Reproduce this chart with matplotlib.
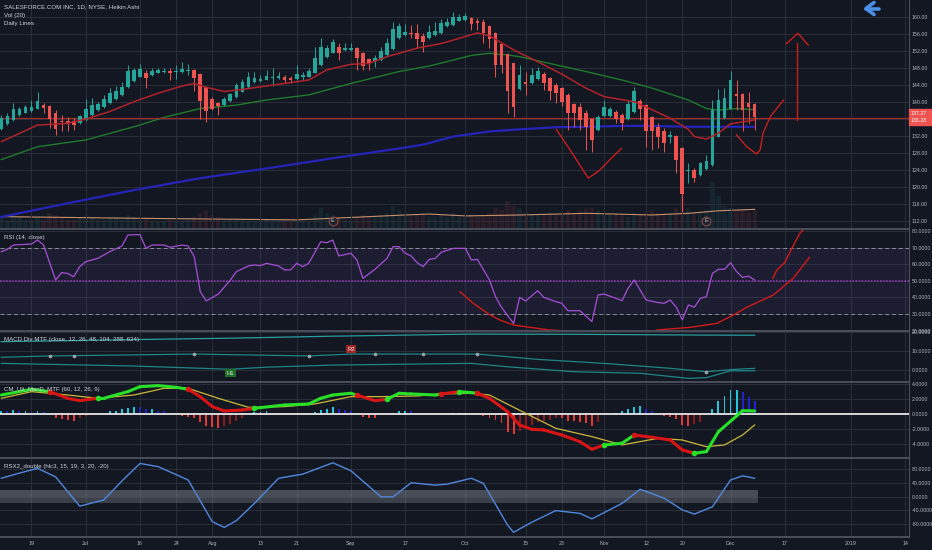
import numpy as np
import matplotlib
matplotlib.use("Agg")
import matplotlib.pyplot as plt
from matplotlib.lines import Line2D
from matplotlib.patches import Rectangle

plt.rcParams['font.family'] = ['Liberation Sans Narrow', 'Liberation Sans', 'DejaVu Sans']

BG = '#131722'
GRID = '#2a2e39'
SEP = '#4a4e5a'
TXT = '#d1d4dc'
AXC = '#b2b5be'
UP = '#26a69a'
DN = '#ef5350'

# ---------------- data (bar index 0 = Jun 19) ----------------
first_bar = -5
ha_open = [133.5, 134.75, 135.7, 136.8, 137.4, 137.8, 138.4, 139.3, 139.0, 137.4,
           135.4, 135.4, 135.4, 134.9, 135.7, 136.9, 138.05, 138.7, 139.6, 140.6,
           141.6, 143.4, 144.9, 145.9, 146.8, 146.3, 146.8, 147.0, 147.2, 147.0,
           147.0, 147.15, 147.5, 146.5, 143.4, 140.6, 139.6, 139.2, 140.2, 141.0,
           142.4, 143.4, 144.55, 144.9, 145.1, 145.6, 145.6, 145.9, 145.6, 145.35,
           145.7, 145.9, 146.8, 148.6, 150.6, 151.5, 152.95, 152.2, 152.2, 152.6,
           151.4, 150.0, 149.65, 149.8, 151.0, 152.4, 154.9, 155.7, 156.2, 156.1,
           155.5, 154.9, 155.7, 156.1, 157.7, 158.05, 159.1, 159.2, 159.6, 159.1,
           158.75, 157.7, 156.2, 153.6, 151.15, 149.0, 142.9, 144.6, 144.3, 145.3,
           146.5, 145.5, 143.9, 143.15, 141.6, 139.5, 138.7, 137.3, 135.85, 133.3,
           136.6, 136.6, 137.65, 136.9, 135.85, 137.65, 140.2, 139.2, 136.3, 134.1,
           133.1, 131.6, 131.9, 129.2, 123.8, 123.9, 122.75, 124.1, 125.1, 131.8,
           136.1, 138.4, 141.7, 141.7, 139.8, 139.5]
ha_high = [136.9, 137.3, 139.6, 138.8, 139.2, 140.4, 142.4, 139.6, 139.2, 138.05,
           136.9, 136.5, 136.1, 136.9, 140.55, 140.8, 140.0, 141.6, 143.15, 143.7,
           144.7, 148.6, 147.85, 148.9, 147.5, 147.85, 147.85, 147.85, 147.85, 148.6,
           149.4, 148.9, 147.6, 146.7, 143.7, 141.2, 140.0, 141.0, 142.1, 144.3,
           145.3, 147.1, 147.1, 146.3, 147.5, 147.85, 147.1, 146.3, 146.05, 148.6,
           147.1, 147.85, 152.95, 154.9, 153.3, 154.7, 153.9, 153.9, 153.7, 152.95,
           151.8, 150.4, 151.0, 152.95, 154.9, 158.8, 158.6, 158.4, 158.05, 158.3,
           156.1, 158.05, 158.8, 159.4, 159.6, 161.2, 160.6, 160.95, 159.85, 159.6,
           159.4, 158.05, 156.5, 153.7, 151.4, 149.2, 148.6, 147.1, 147.85, 148.2,
           147.1, 145.9, 144.3, 143.5, 142.0, 139.8, 139.6, 138.05, 136.1, 136.9,
           140.4, 138.8, 138.05, 137.3, 140.4, 143.5, 140.55, 139.5, 136.6, 134.9,
           133.7, 133.0, 132.2, 129.4, 125.5, 124.3, 125.9, 127.5, 140.4, 142.9,
           143.15, 147.3, 145.1, 142.1, 142.4, 139.8]
ha_low = [133.3, 134.5, 135.5, 136.6, 137.3, 137.65, 138.2, 137.3, 133.7, 132.2,
          133.2, 133.2, 133.3, 134.75, 135.5, 136.6, 137.9, 138.5, 139.5, 140.5,
          141.4, 143.2, 144.7, 145.7, 143.15, 146.05, 146.7, 146.7, 145.0, 145.3,
          146.8, 146.3, 142.6, 135.9, 135.3, 138.05, 136.9, 139.0, 140.0, 140.8,
          142.2, 143.2, 144.3, 144.7, 145.0, 143.7, 145.4, 144.3, 144.5, 145.1,
          145.1, 145.7, 146.7, 148.4, 150.4, 151.4, 149.8, 152.0, 152.0, 147.5,
          147.5, 147.5, 148.1, 149.65, 150.8, 152.2, 154.7, 155.5, 155.1, 152.6,
          151.8, 154.7, 155.5, 156.0, 157.5, 157.8, 158.9, 159.1, 156.9, 156.9,
          153.9, 152.6, 145.9, 146.7, 137.3, 136.5, 142.75, 141.6, 144.2, 145.1,
          142.75, 140.4, 139.6, 139.0, 133.3, 134.1, 133.3, 128.6, 128.2, 133.2,
          136.5, 136.5, 135.05, 133.3, 135.7, 137.4, 135.7, 129.4, 128.6, 129.0,
          128.2, 130.2, 123.2, 114.1, 120.8, 121.0, 122.5, 123.9, 124.9, 131.6,
          135.85, 138.2, 138.05, 133.0, 135.05, 133.3]
ha_close = [136.1, 136.6, 138.2, 138.2, 138.7, 138.8, 140.2, 138.5, 135.85, 133.5,
            135.2, 135.05, 134.6, 136.6, 138.2, 139.2, 139.5, 140.6, 142.0, 142.6,
            143.4, 147.3, 147.5, 147.7, 145.65, 147.3, 147.4, 147.3, 146.8, 147.3,
            147.8, 147.4, 145.65, 140.2, 137.9, 138.4, 139.0, 140.7, 141.8, 143.85,
            144.6, 145.7, 145.5, 145.4, 146.05, 145.7, 146.1, 145.1, 145.1, 146.5,
            146.2, 147.3, 150.4, 152.95, 152.6, 154.05, 151.5, 152.6, 152.7, 150.2,
            148.5, 149.2, 150.4, 152.0, 153.9, 157.0, 157.8, 156.5, 155.9, 154.7,
            154.05, 156.5, 156.7, 158.6, 158.8, 160.0, 159.85, 160.2, 158.3, 158.6,
            156.1, 154.7, 148.6, 148.6, 142.6, 138.8, 146.3, 144.2, 146.3, 147.3,
            144.5, 142.6, 142.0, 140.0, 137.3, 137.4, 135.7, 134.1, 131.0, 136.5,
            138.7, 138.4, 135.85, 135.05, 139.5, 142.6, 138.4, 133.2, 133.2, 131.8,
            130.2, 132.2, 126.3, 118.4, 123.9, 122.0, 125.5, 126.1, 138.05, 140.4,
            140.8, 145.1, 141.35, 138.05, 138.7, 136.5]
volume = [5, 4, 6, 5, 4, 4, 5, 4, 7, 6, 5, 4, 4, 5, 6, 5, 4, 4, 5, 5,
          4, 6, 5, 4, 5, 3, 3, 3, 4, 3, 3, 4, 5, 7, 8, 6, 5, 4, 4, 4,
          4, 3, 3, 3, 4, 3, 3, 4, 3, 3, 3, 3, 6, 9, 7, 6, 5, 4, 4, 5,
          6, 5, 5, 6, 7, 10, 8, 6, 5, 6, 6, 5, 5, 6, 5, 7, 5, 5, 6, 5,
          6, 7, 9, 8, 12, 10, 9, 7, 6, 6, 6, 7, 6, 6, 8, 7, 8, 9, 9, 8,
          7, 6, 6, 6, 5, 7, 6, 7, 8, 7, 7, 7, 9, 14, 9, 7, 7, 8, 20, 14,
          10, 9, 8, 8, 7, 8]
volma_x = [-5, 17, 44, 50, 62, 66, 72, 81, 92, 103, 109, 114, 120]
volma_y = [5.3, 4.6, 3.9, 4.6, 6.0, 6.4, 5.6, 6.0, 6.7, 6.0, 6.7, 7.8, 8.4]

ma_red_x = [-5, 1, 6, 9, 13, 17, 21, 25, 27, 29, 32, 35, 39, 42, 46, 49, 53, 56, 59, 64,
            68, 70, 74, 76, 80, 84, 88, 92, 95, 100, 103, 106, 109, 110, 112, 114, 116, 120]
ma_red_y = [130.6, 134.5, 134.9, 135.9, 137.7, 140.0, 142.0, 143.7, 144.3, 143.4, 142.4,
            142.9, 143.7, 144.3, 145.1, 147.5, 148.8, 149.0, 150.6, 152.6, 153.7, 154.5,
            156.2, 155.5, 152.2, 149.4, 146.5, 143.2, 141.2, 140.0, 138.1, 136.1, 133.5,
            131.8, 131.2, 132.6, 134.8, 135.7]
ma_green_x = [-5, 1, 9, 17, 22, 28, 34, 39, 46, 53, 61, 66, 70, 73, 76, 79, 81, 86, 92,
              98, 103, 109, 112, 114, 117, 120]
ma_green_y = [126.4, 129.4, 131.0, 134.1, 136.3, 138.4, 139.2, 140.4, 141.6, 144.3, 147.1,
              148.4, 149.8, 150.9, 151.4, 151.0, 150.6, 149.0, 147.1, 145.1, 143.2, 140.4,
              138.4, 138.0, 138.4, 138.1]
ma_blue_x = [-5, 6, 17, 28, 39, 50, 61, 65, 70, 76, 81, 87, 92, 98, 103, 109, 114, 120]
ma_blue_y = [112.9, 116.1, 119.2, 122.0, 124.3, 126.7, 129.0, 129.9, 131.8, 133.0, 133.5,
             134.0, 134.1, 134.3, 134.3, 134.1, 134.1, 134.1]

daily_line = 136.28
last_prices = ['137.27', '136.28']
earnings_idx = [50, 112]

# hand drawn marks (bar index, price)
draw1_x = [87.1, 89.4, 92.4, 94.3, 96.5, 97.9]
draw1_y = [133.5, 128.6, 122.0, 123.9, 127.1, 129.0]
draw2_x = [117.0, 118.7, 120.3, 120.9, 121.4, 122.6, 124.8]
draw2_y = [132.2, 129.4, 127.7, 128.6, 132.6, 136.5, 140.4]
arrow_x = [127.0, 127.0]
arrow_y = [135.7, 153.7]
head_x = [125.3, 127.2, 128.9]
head_y = [153.7, 156.1, 153.3]

rsi_x = [-5, -4, -3, 0, 1, 2, 4, 5, 6, 7, 8, 9, 11, 13, 15, 16, 18, 19, 20, 22, 23, 25, 26,
         27, 28, 29, 31, 33, 34, 36, 37, 38, 39, 41, 42, 43, 44, 45, 46, 48, 49, 50, 51, 53,
         54, 55, 57, 59, 60, 61, 62, 63, 64, 65, 66, 67, 68, 70, 72, 73, 74, 76, 77, 78, 80,
         81, 82, 84, 85, 87, 88, 89, 91, 93, 94, 95, 97, 98, 99, 100, 102, 104, 105, 106,
         107, 108, 109, 110, 111, 112, 113, 114, 115, 116, 117, 118, 119, 120]
rsi_y = [67.8, 69.2, 71.8, 72.4, 74.9, 71.8, 50.6, 55.1, 54.6, 52.6, 58.7, 61.7, 63.7, 67.8,
         71.2, 77.9, 78.1, 69.8, 71.8, 71.8, 70.4, 71.8, 71.2, 64.8, 43.6, 37.9, 42.1, 50.6,
         55.7, 59.1, 59.7, 59.3, 60.7, 59.1, 56.7, 56.7, 60.7, 58.7, 60.7, 73.8, 73.2, 74.8,
         65.2, 66.8, 62.7, 51.6, 57.1, 63.7, 70.8, 70.8, 66.8, 65.2, 61.1, 58.7, 63.1, 63.7,
         67.4, 69.8, 69.8, 62.7, 63.1, 50.6, 40.5, 34.0, 24.3, 40.1, 37.9, 44.1, 40.1, 37.5,
         36.5, 32.0, 32.0, 25.4, 41.5, 42.1, 39.5, 38.1, 45.6, 50.6, 38.5, 36.9, 36.5, 38.5,
         34.1, 26.4, 35.5, 34.1, 39.5, 40.5, 54.6, 57.1, 57.1, 61.1, 55.7, 52.2, 53.0, 50.6]
rsi_drawA_x = [71.1, 73.3, 76.1, 77.7, 80.0, 86.0, 90.0]
rsi_drawA_y = [43.5, 36.5, 29.4, 26.4, 23.3, 20.3, 19.5]
rsi_drawB_x = [103.7, 109.3, 113.7, 116.5, 118.7, 123.1, 126.4, 129.1]
rsi_drawB_y = [20.3, 21.9, 24.3, 29.4, 34.1, 41.5, 51.6, 64.3]
rsi_drawC_x = [123.0, 123.7, 125.0, 125.9, 127.5, 128.3]
rsi_drawC_y = [51.6, 56.7, 61.1, 67.8, 78.9, 82.0]

mtf1_x = [-5, 17, 34, 50, 73, 90, 110, 120]
mtf1_y = [14.9, 16.0, 16.8, 17.8, 18.9, 18.8, 18.4, 18.3]
mtf2_x = [-5, 3, 27, 46, 53, 65, 74, 84, 95, 106, 112, 116, 120]
mtf2_y = [6.7, 7.4, 8.4, 7.4, 8.4, 8.4, 8.4, 5.6, 3.5, 0.9, -0.9, 0.2, 0.9]
mtf3_x = [-5, 17, 33, 39, 50, 73, 79, 90, 101, 109, 112, 116, 120]
mtf3_y = [3.5, 2.1, 0.4, 1.5, 2.6, 3.5, 1.7, -0.9, -1.7, -4.4, -4.0, -0.4, -0.4]
mtf_dot_x = [3, 7, 27, 46, 57, 65, 74, 112]
mtf_dot_y = [7.4, 7.6, 8.4, 7.4, 8.4, 8.4, 8.4, -1.2]
mtf_tags = [('R2', 53, 10.9, '#a12727'), ('H1', 33, -1.7, '#1f6f25')]

macd_x = [-5, -2, 0, 3, 6, 8, 11, 12, 16, 18, 21, 24, 26, 28, 30, 32, 35, 37, 42, 46, 48,
          50, 53, 54, 57, 59, 61, 63, 67, 68, 71, 73, 74, 76, 79, 81, 83, 85, 88, 91, 93,
          95, 98, 100, 103, 106, 108, 110, 112, 114, 117, 118, 120]
macd_y = [2.53, 2.98, 3.29, 2.98, 2.09, 1.78, 2.09, 2.09, 2.98, 3.64, 3.78, 3.56, 3.29,
          2.31, 0.98, 0.4, 0.53, 0.76, 1.2, 1.33, 2.09, 2.53, 2.76, 2.5, 1.78, 1.96, 2.76,
          2.67, 2.53, 2.67, 2.98, 2.84, 2.76, 2.09, 0.31, -1.47, -2.04, -2.13, -2.8, -3.69,
          -4.71, -4.13, -3.91, -2.8, -3.11, -3.47, -4.8, -5.24, -5.02, -2.36, -0.27, 0.44, 0.4]
macd_state = list('gggrrrgggggg' 'rrrrrggggggrrggggrggrrrrrrrrrggrrrrgggggg')
signal_x = [-5, 0, 6, 11, 17, 22, 26, 31, 36, 42, 47, 53, 58, 64, 68, 73, 76, 82, 87, 93,
            98, 104, 108, 112, 115, 118, 120]
signal_y = [2.09, 2.98, 2.53, 2.09, 2.53, 3.42, 3.42, 2.09, 0.89, 0.98, 1.33, 2.31, 2.31,
            2.4, 2.67, 2.76, 2.53, 0.09, -1.91, -3.02, -4.13, -3.24, -3.47, -4.36, -4.13,
            -2.8, -1.47]
hist = [0.44, 0.36, 0.53, 0.36, 0.36, 0.3, 0.44, 0.2, 0.0, -0.53,
        -0.67, -0.8, -0.98, -0.53, -0.27, 0.0, 0.0, 0.05, 0.36, 0.44,
        0.62, 0.8, 0.98, 0.89, 0.62, 0.62, 0.44, 0.36, 0.18, 0.02,
        -0.22, -0.36, -0.53, -1.1, -1.56, -1.78, -1.87, -1.56, -1.33, -0.98,
        -0.53, 0.0, 0.2, 0.2, 0.36, 0.18, 0.1, 0.0, 0.0, 0.0,
        0.0, 0.05, 0.2, 0.53, 0.71, 0.89, 0.62, 0.53, 0.36, 0.0,
        -0.36, -0.53, -0.53, 0.0, 0.05, 0.18, 0.36, 0.44, 0.36, 0.18,
        0.0, 0.0, 0.0, 0.0, 0.05, 0.13, 0.18, 0.18, 0.0, 0.0,
        -0.27, -0.53, -0.8, -1.24, -2.44, -2.67, -2.22, -1.78, -1.42, -1.11,
        -0.89, -0.8, -0.53, -0.6, -0.89, -0.98, -1.11, -1.24, -1.56, -1.11,
        0.0, 0.0, 0.18, 0.36, 0.67, 0.98, 1.11, 0.67, 0.36, 0.0,
        -0.27, -0.36, -0.67, -1.42, -1.56, -1.33, -1.11, 0.0, 0.67, 1.78,
        2.44, 3.2, 3.2, 2.89, 2.31, 1.78]

rsx_x = [-5, -2, 1, 4, 8, 12, 15, 18, 21, 26, 30, 32, 34, 37, 41, 45, 50, 53, 58, 60, 63,
         67, 69, 73, 75, 79, 80, 83, 87, 91, 93, 98, 101, 105, 108, 110, 113, 116, 118, 120]
rsx_y = [53, 68, 82, 57, -28, -10, 45, 96, 87, 48, -73, -90, -70, -20, 53, 65, 98, 75, -1,
         -1, 40, 33, 36, 53, 38, -83, -104, -75, -41, -49, -65, -20, 21, -5, -39, -51, -30,
         48, 60, 53]

tick_idx = [0, 9, 18, 24, 30, 38, 44, 53, 62, 72, 82, 88, 95, 102, 108, 116, 125, 136, 145]
tick_lab = ['19', 'Jul', '16', '24', 'Aug', '13', '21', 'Sep', '17', 'Oct', '15', '23',
            'Nov', '12', '20', 'Dec', '17', '2019', '14']

# ---------------- figure ----------------
W, H = 932, 550
fig = plt.figure(figsize=(W / 100, H / 100), dpi=100, facecolor=BG)
XR = 909
LS = 3.8


def pane(top, bot):
    ax = fig.add_axes([0, 1 - bot / H, XR / W, (bot - top) / H], facecolor=BG)
    ax.set_xlim(-5.227, 145.62)
    for s in ('top', 'left'):
        ax.spines[s].set_visible(False)
    ax.spines['bottom'].set_color(SEP)
    ax.spines['bottom'].set_linewidth(1.4)
    ax.spines['right'].set_color(SEP)
    ax.spines['right'].set_linewidth(0.8)
    ax.set_xticks(tick_idx)
    ax.tick_params(axis='x', length=0, labelbottom=False)
    ax.yaxis.tick_right()
    ax.tick_params(axis='y', length=0, pad=2.0, labelsize=LS, labelcolor=AXC)
    ax.grid(True, color=GRID, lw=0.7)
    ax.set_axisbelow(True)
    return ax


def yticks(ax, vals, fmt):
    ax.set_yticks(vals)
    ax.set_yticklabels([fmt % v for v in vals])


x = np.arange(first_bar, first_bar + len(ha_open))
o = np.array(ha_open)
c = np.array(ha_close)
hi = np.array(ha_high)
lo = np.array(ha_low)
col = np.where(c >= o, UP, DN)

# volume layer under the price pane
axv = fig.add_axes([0, 1 - 229 / H, XR / W, 229 / H], facecolor=BG)
axv.set_xlim(-5.227, 145.62)
axv.set_ylim(0, 98)
axv.set_xticks([])
axv.set_yticks([])
for s in axv.spines.values():
    s.set_visible(False)
axv.bar(x, volume, width=0.7, color=col, alpha=0.11)
axv.plot(volma_x, volma_y, color='#c4906c', lw=0.8)

# main pane
ax = pane(0, 229)
ax.patch.set_visible(False)
ax.set_ylim(110.05, 163.93)
yticks(ax, list(range(112, 164, 4)), '%.2f')
ax.vlines(x, lo, hi, color=col, lw=0.7, zorder=3)
ax.bar(x, np.maximum(np.abs(c - o), 0.15), bottom=np.minimum(o, c), width=0.62,
       color=col, zorder=4)
ax.plot(ma_blue_x, ma_blue_y, color='#2424b8', lw=1.6, zorder=2)
ax.plot(ma_green_x, ma_green_y, color='#1f7a2b', lw=1.0, zorder=2)
ax.plot(ma_red_x, ma_red_y, color='#b0232b', lw=1.1, zorder=5)
ax.axhline(daily_line, color='#9c2b2b', lw=0.9, zorder=2)
for xs, ys in ((draw1_x, draw1_y), (draw2_x, draw2_y), (arrow_x, arrow_y), (head_x, head_y)):
    ax.plot(xs, ys, color='#c81e1e', lw=1.0, zorder=6)
ex = ax.get_xaxis_transform()
ax.scatter(earnings_idx, [0.035] * len(earnings_idx), s=40, transform=ex, zorder=7,
           facecolor='#1e222d', edgecolor='#8a4848', lw=0.8)
for e in earnings_idx:
    ax.text(e, 0.035, 'E', transform=ex, ha='center', va='center', fontsize=4,
            color='#c8c8c8', zorder=8)

# RSI pane
ax2 = pane(230, 331)
ax2.set_ylim(19.7, 80.9)
yticks(ax2, [20, 30, 40, 50, 60, 70, 80], '%.4f')
ax2.axhspan(30, 70, color='#7e57c2', alpha=0.1, lw=0)
ax2.axhline(70, color='#8a8d96', lw=0.7, ls=(0, (4, 3)))
ax2.axhline(30, color='#8a8d96', lw=0.7, ls=(0, (4, 3)))
ax2.axhline(50, color='#9a3cc0', lw=1.1, ls=(0, (1, 1)))
ax2.plot(rsi_x, rsi_y, color='#a64fd6', lw=0.9)
for xs, ys in ((rsi_drawA_x, rsi_drawA_y), (rsi_drawB_x, rsi_drawB_y), (rsi_drawC_x, rsi_drawC_y)):
    ax2.plot(xs, ys, color='#d11a1a', lw=1.0)

# MACD Div MTF pane
ax3 = pane(332, 382)
ax3.set_ylim(-6.3, 20.0)
yticks(ax3, [0, 10, 20], '%.4f')
ax3.plot(mtf1_x, mtf1_y, color='#2a9d9d', lw=0.9)
ax3.plot(mtf2_x, mtf2_y, color='#1f8585', lw=0.9)
ax3.plot(mtf3_x, mtf3_y, color='#1f8585', lw=0.9)
ax3.scatter(mtf_dot_x, mtf_dot_y, s=2.5, color='#9aa6a6', zorder=4)
for t, tx, ty, tc in mtf_tags:
    ax3.text(tx, ty, t, ha='center', va='center', fontsize=4.2, color='#e8e8e8', zorder=5,
             bbox=dict(boxstyle='square,pad=0.25', fc=tc, ec='none'))

# CM_Ult_MacD_MTF pane
ax4 = pane(383, 458)
ax4.set_ylim(-5.87, 4.13)
yticks(ax4, [-4, -2, 0, 2, 4], '%.4f')
hv = np.array(hist)
prev = np.concatenate([[hv[0]], hv[:-1]])
hcol = np.where(hv >= 0, np.where(hv >= prev, '#26c6da', '#2121cf'),
                np.where(hv <= prev, '#e53935', '#8e1b1b'))
ax4.bar(x, hv, width=0.32, color=hcol, zorder=2)
ax4.axhline(0, color='#e6e6e6', lw=1.3, zorder=3)
ax4.plot(signal_x, signal_y, color='#c9b83a', lw=0.9, zorder=4)
for i in range(len(macd_x) - 1):
    cc = '#27e027' if macd_state[i] == 'g' else '#d91414'
    ax4.plot(macd_x[i:i + 2], macd_y[i:i + 2], color=cc, lw=2.2, zorder=5,
             solid_capstyle='round')
for i in range(1, len(macd_x)):
    if macd_state[i] != macd_state[i - 1]:
        cc = '#27e027' if macd_state[i] == 'g' else '#d91414'
        ax4.scatter(macd_x[i], macd_y[i], s=9, color=cc, zorder=6)

# RSX pane
ax5 = pane(459, 537)
ax5.set_ylim(-117.7, 109)
yticks(ax5, [-80, -40, 0, 40, 80], '%.4f')
ax5.fill_between([first_bar - 0.5, 120.5], 0, 20, color='#8a8d96', alpha=0.45, lw=0)
ax5.fill_between([first_bar - 0.5, 120.5], -20, 0, color='#6e717b', alpha=0.45, lw=0)
ax5.plot(rsx_x, rsx_y, color='#5088dc', lw=1.0)
ax5.set_xticklabels(tick_lab)
ax5.tick_params(axis='x', labelbottom=True, labelsize=LS, labelcolor=AXC, pad=3.2)

# legends / header texts
for ty, t in ((7, 'SALESFORCE.COM INC, 1D, NYSE, Heikin Ashi'), (15.5, 'Vol (20)'),
              (24, 'Daily Lines'), (237, 'RSI (14, close)'),
              (339, 'MACD Div MTF (close, 12, 26, 48, 104, 288, 624)'),
              (390, 'CM_Ult_MacD_MTF (60, 12, 26, 9)'),
              (466.5, 'RSX2_double (hlc3, 15, 19, 3, 20, -20)')):
    fig.text(4 / W, 1 - ty / H, t, fontsize=4.4, color=TXT, va='center', ha='left')

# last price label
fig.add_artist(Rectangle((XR / W, 1 - 125 / H), 23 / W, 16 / H, transform=fig.transFigure,
                         color='#ef5350', zorder=10))
for ty, t in zip((113.3, 121.0), last_prices):
    fig.text(911 / W, 1 - ty / H, t, fontsize=LS, color='white', va='center', zorder=11)

# scroll arrow icon
for xs, ys in (((874, 866, 874), (2.5, 8.5, 14.5)), ((866, 879), (8.5, 8.5))):
    fig.add_artist(Line2D([v / W for v in xs], [1 - v / H for v in ys],
                          transform=fig.transFigure, color='#4b8fe8', lw=2.6,
                          solid_capstyle='round', solid_joinstyle='round'))

fig.savefig('out.png', dpi=100, facecolor=BG)
